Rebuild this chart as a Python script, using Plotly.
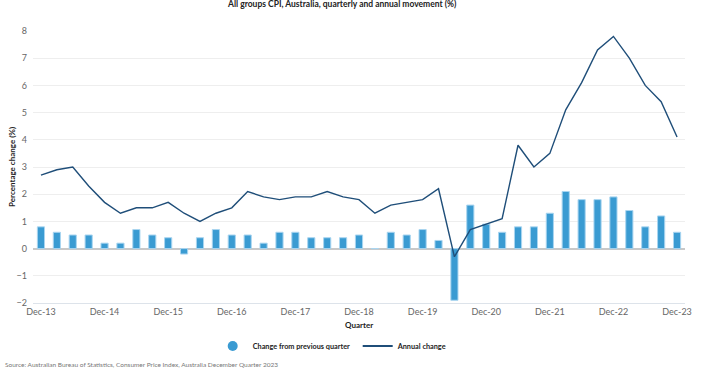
import plotly.graph_objects as go

quarters = []
for y in range(13, 24):
    for m in ["Mar", "Jun", "Sep", "Dec"]:
        if y == 13 and m != "Dec":
            continue
        quarters.append(f"{m}-{y}")
quarters = quarters[:41]

quarterly_change = [0.8, 0.6, 0.5, 0.5, 0.2, 0.2, 0.7, 0.5, 0.4, -0.2,
                    0.4, 0.7, 0.5, 0.5, 0.2, 0.6, 0.6, 0.4, 0.4, 0.4,
                    0.5, 0.0, 0.6, 0.5, 0.7, 0.3, -1.9, 1.6, 0.9, 0.6,
                    0.8, 0.8, 1.3, 2.1, 1.8, 1.8, 1.9, 1.4, 0.8, 1.2, 0.6]
annual_change = [2.7, 2.9, 3.0, 2.3, 1.7, 1.3, 1.5, 1.5, 1.7, 1.3,
                 1.0, 1.3, 1.5, 2.1, 1.9, 1.8, 1.9, 1.9, 2.1, 1.9,
                 1.8, 1.3, 1.6, 1.7, 1.8, 2.2, -0.3, 0.7, 0.9, 1.1,
                 3.8, 3.0, 3.5, 5.1, 6.1, 7.3, 7.8, 7.0, 6.0, 5.4, 4.1]
tick_labels = [q for q in quarters if q.startswith("Dec")]
y_ticks = list(range(-2, 9))

BAR = "#3a9bd2"
LINE = "#1f4e79"
FONT = "Lato"

fig = go.Figure()
fig.add_trace(go.Bar(x=quarters, y=quarterly_change, marker=dict(color=BAR, line=dict(color="#a9d5f0", width=1)),
                     width=0.45, showlegend=False, name="Change from previous quarter"))
fig.add_trace(go.Scatter(x=quarters, y=annual_change, mode="lines", line=dict(color=LINE, width=1.4),
                         showlegend=False, name="Annual change"))
# legend proxies
fig.add_trace(go.Scatter(x=[None], y=[None], mode="markers", marker=dict(symbol="circle", size=10, color=BAR),
                         name="<b>Change from previous quarter</b>"))
fig.add_trace(go.Scatter(x=[None], y=[None], mode="lines", line=dict(color=LINE, width=2),
                         name="<b>Annual change</b>"))

fig.update_layout(
    width=708, height=377,
    margin=dict(l=33, r=23, t=31, b=74),
    plot_bgcolor="white", paper_bgcolor="white",
    font=dict(family=FONT, size=9, color="#666666"),
    showlegend=True,
    legend=dict(orientation="h", x=0.498, xanchor="center", y=-0.158, yanchor="middle",
                font=dict(size=7.3, color="#222222", family=FONT), entrywidth=100, itemwidth=30),
    xaxis=dict(type="category", range=[-0.5, 40.5], tickmode="array", tickvals=tick_labels, ticktext=tick_labels,
               showgrid=False, showline=True, linecolor="#dde3ea", linewidth=1, ticks="",
               tickfont=dict(size=9, color="#666666")),
    yaxis=dict(range=[-2, 8], tickvals=y_ticks, showgrid=True, gridcolor="#eeeeee", gridwidth=1,
               zeroline=True, zerolinecolor="#c8c8c8", zerolinewidth=2, ticks="", ticklabelstandoff=5,
               tickfont=dict(size=9, color="#666666"), showline=False),
    annotations=[
        dict(text="<b>All groups CPI, Australia, quarterly and annual movement (%)</b>", xref="paper", yref="paper",
             x=(342 - 33) / 652, y=(303 - 4) / 272, xanchor="center", yanchor="middle", showarrow=False,
             font=dict(size=8.5, color="#222222", family=FONT)),
        dict(text="<b>Percentage change (%)</b>", xref="paper", yref="paper", x=(12 - 33) / 652, y=0.5, textangle=-90,
             xanchor="center", yanchor="middle", showarrow=False, font=dict(size=8, color="#222222", family=FONT)),
        dict(text="<b>Quarter</b>", xref="paper", yref="paper", x=0.5, y=-0.08, xanchor="center", yanchor="middle",
             showarrow=False, font=dict(size=8, color="#222222", family=FONT)),
        dict(text="Source: Australian Bureau of Statistics, Consumer Price Index, Australia December Quarter 2023",
             xref="paper", yref="paper", x=(3 - 33) / 652, y=(303 - 364) / 272, xanchor="left", yanchor="middle",
             showarrow=False, font=dict(size=6.5, color="#777777", family=FONT)),
    ],
)
fig.write_html("out.html", config={"displayModeBar": False},
               post_script="document.body.style.margin='0';document.body.style.padding='0';")
